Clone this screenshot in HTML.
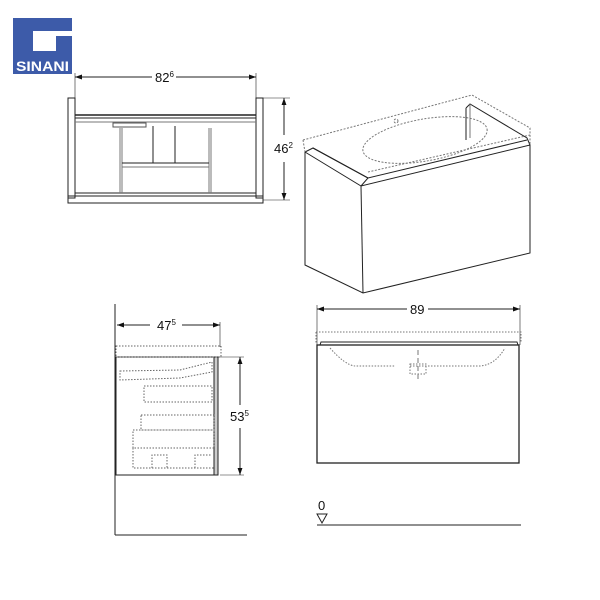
<!DOCTYPE html>
<html><head><style>
html,body{margin:0;padding:0;background:#fff;}
svg{display:block;font-family:"Liberation Sans",sans-serif;}
</style></head><body>
<svg width="600" height="600" viewBox="0 0 600 600" xmlns="http://www.w3.org/2000/svg">
<defs>
<marker id="a" viewBox="0 0 10 10" refX="10" refY="5" markerWidth="7" markerHeight="7" orient="auto-start-reverse"><path d="M0,1.5 L10,5 L0,8.5 z" fill="#111"/></marker>
</defs>
<!-- logo -->
<rect x="13" y="18" width="59" height="56" fill="#3d5ba9"/>
<path d="M33 31 H72 V36 H56 V51 H33 Z" fill="#fff"/>
<text x="42.5" y="71" font-size="14" font-weight="bold" fill="#fff" text-anchor="middle" textLength="53" lengthAdjust="spacingAndGlyphs">SINANI</text>

<g stroke="#222" fill="none" stroke-width="1">
<!-- top view -->
<line x1="75" y1="77" x2="152" y2="77" marker-start="url(#a)"/>
<line x1="176" y1="77" x2="256" y2="77" marker-end="url(#a)"/>
<line x1="75" y1="73" x2="75" y2="98" stroke-width="0.6"/>
<line x1="256" y1="73" x2="256" y2="98" stroke-width="0.6"/>
<rect x="68" y="98" width="7" height="100"/>
<rect x="256" y="98" width="7" height="100"/>
<rect x="68" y="196" width="195" height="7"/>
<line x1="75" y1="115" x2="256" y2="115" stroke-width="1.4"/>
<line x1="75" y1="118" x2="256" y2="118"/>
<line x1="75" y1="122" x2="256" y2="122" stroke="#777"/>
<line x1="75" y1="193" x2="256" y2="193"/>
<line x1="120" y1="128" x2="120" y2="193" stroke="#777"/>
<line x1="122" y1="128" x2="122" y2="193" stroke="#777"/>
<line x1="209" y1="128" x2="209" y2="193" stroke="#777"/>
<line x1="211" y1="128" x2="211" y2="193" stroke="#777"/>
<path d="M153 126 V163 H175 V126"/>
<line x1="122" y1="163" x2="209" y2="163"/>
<line x1="122" y1="167" x2="209" y2="167" stroke="#777"/>
<rect x="113" y="123" width="33" height="4" stroke="#555"/>
<line x1="284" y1="98" x2="284" y2="135" marker-start="url(#a)"/>
<line x1="284" y1="162" x2="284" y2="200" marker-end="url(#a)"/>
<line x1="263" y1="98" x2="290" y2="98" stroke-width="0.6"/>
<line x1="263" y1="200" x2="290" y2="200" stroke-width="0.6"/>

<!-- iso view -->
<path d="M305 152 L361 186 L530 145 L530 253 L363 293 L305 265 Z" fill="#fff"/>
<line x1="361" y1="186" x2="363" y2="293"/>
<path d="M305 152 L313 148 L368 178 L361 186" />
<path d="M313 148 L368 178 L527 140" />
<path d="M466 108 L470 104 L527 138 L530 145" />
<line x1="466" y1="108" x2="466" y2="140"/>
<line x1="470" y1="104" x2="470" y2="138" stroke="#777"/>
<g stroke-dasharray="2,1.5" stroke="#777">
<path d="M303 140 L472 95 L530 128 L530 145"/>
<path d="M303 140 L305 152"/>
<path d="M368 172 L530 135"/>
<ellipse cx="425" cy="140" rx="63" ry="21" transform="rotate(-10 425 140)"/>
<circle cx="396" cy="121" r="2"/>
</g>

<!-- side view -->
<line x1="115" y1="304" x2="115" y2="535"/>
<line x1="115" y1="535" x2="247" y2="535"/>
<line x1="117" y1="325" x2="150" y2="325" marker-start="url(#a)"/>
<line x1="182" y1="325" x2="220" y2="325" marker-end="url(#a)"/>
<line x1="220" y1="322" x2="220" y2="347" stroke-width="0.6"/>
<rect x="116" y="357" width="98" height="118"/>
<rect x="214" y="357" width="4" height="118" fill="#ccc"/>
<line x1="240" y1="357" x2="240" y2="405" marker-start="url(#a)"/>
<line x1="240" y1="428" x2="240" y2="475" marker-end="url(#a)"/>
<line x1="220" y1="357" x2="244" y2="357" stroke-width="0.6"/>
<line x1="220" y1="475" x2="244" y2="475" stroke-width="0.6"/>
<g stroke-dasharray="1.5,1.5" stroke="#666">
<rect x="116" y="346" width="105" height="11"/>
<path d="M120 371 L180 370 L212 362 L212 372 L180 378 L120 380 Z"/>
<rect x="144" y="386" width="68" height="16"/>
<rect x="141" y="415" width="73" height="15"/>
<rect x="133" y="430" width="81" height="18"/>
<path d="M133 448 V468 H214 M152 468 V455 H167 V468 M195 468 V455 H212"/>
</g>

<!-- front view -->
<line x1="317" y1="309" x2="407" y2="309" marker-start="url(#a)"/>
<line x1="428" y1="309" x2="520" y2="309" marker-end="url(#a)"/>
<line x1="317" y1="305" x2="317" y2="345" stroke-width="0.6"/>
<line x1="520" y1="305" x2="520" y2="345" stroke-width="0.6"/>
<rect x="317" y="345" width="202" height="118" stroke-width="1.3"/>
<path d="M320 345 L321 342 L517 342 L518 345" />
<g stroke-dasharray="1.5,1.5" stroke="#777">
<path d="M316 332 H521 V343 M316 332 V343"/>
<path d="M330 348 Q345 365 355 366 H395 M410 366 H480 Q495 365 505 348"/>
<rect x="410" y="364" width="16" height="10"/>
<line x1="418" y1="350" x2="418" y2="380" stroke-dasharray="5,3"/>
</g>
<line x1="317" y1="525" x2="521" y2="525"/>
<path d="M317 514 H327 L322 523 Z"/>
</g>

<g font-size="13" fill="#111">
<text x="155" y="82">82<tspan font-size="8" dy="-5">6</tspan></text>
<text x="274" y="153">46<tspan font-size="8" dy="-5">2</tspan></text>
<text x="157" y="330">47<tspan font-size="8" dy="-5">5</tspan></text>
<text x="230" y="421">53<tspan font-size="8" dy="-5">5</tspan></text>
<text x="410" y="314">89</text>
<text x="318" y="510">0</text>
</g>
</svg>
</body></html>
